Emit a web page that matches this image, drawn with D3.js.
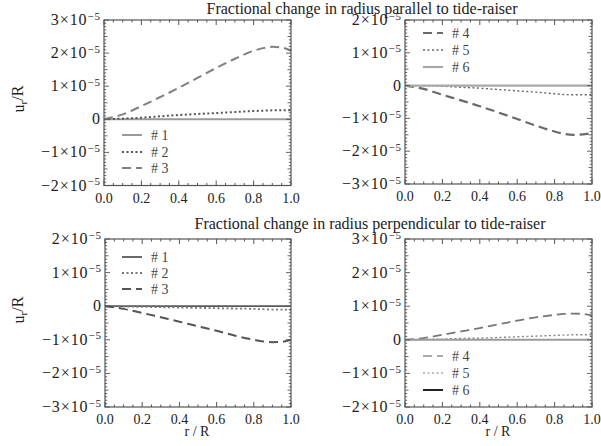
<!DOCTYPE html>
<html>
<head>
<meta charset="utf-8">
<script src="https://cdn.jsdelivr.net/npm/d3@7"></script>
<style>
  html, body { margin: 0; padding: 0; background: #fff; }
  svg { display: block; }
  svg text { font-family: "Liberation Serif", Tinos, "DejaVu Serif", serif; }
</style>
</head>
<body>
<svg id="chart" width="601" height="446" font-family="Liberation Serif, Tinos, DejaVu Serif, serif"></svg>
<script>
// Radial sample points r/R
const radius = [0, 0.1, 0.2, 0.3, 0.4, 0.5, 0.6, 0.7, 0.8, 0.85, 0.9, 0.95, 1.0];

// Fractional radial displacement u_r/R, in units of 1e-5
// Parallel to tide-raiser
const par1 = [0, 0, 0, 0, 0, 0, 0, 0, 0, 0, 0, 0, 0];
const par2 = [0, 0.02, 0.05, 0.09, 0.13, 0.16, 0.19, 0.22, 0.25, 0.26, 0.27, 0.27, 0.27];
const par3 = [0, 0.15, 0.4, 0.67, 0.95, 1.25, 1.55, 1.83, 2.07, 2.15, 2.19, 2.17, 2.07];
const par4 = [0, -0.1, -0.28, -0.45, -0.63, -0.82, -1.02, -1.22, -1.4, -1.47, -1.5, -1.49, -1.44];
const par5 = [0, 0, -0.02, -0.05, -0.08, -0.12, -0.16, -0.2, -0.25, -0.27, -0.28, -0.28, -0.27];
const par6 = [0, 0, 0, 0, 0, 0, 0, 0, 0, 0, 0, 0, 0];
// Perpendicular to tide-raiser
const perp1 = [0, 0, 0, 0, 0, 0, 0, 0, 0, 0, 0, 0, 0];
const perp2 = [0, -0.01, -0.02, -0.03, -0.04, -0.05, -0.06, -0.07, -0.08, -0.09, -0.1, -0.1, -0.1];
const perp3 = [0, -0.08, -0.2, -0.33, -0.46, -0.6, -0.73, -0.88, -1.0, -1.05, -1.07, -1.06, -1.0];
const perp4 = [0, 0.05, 0.15, 0.25, 0.35, 0.46, 0.57, 0.67, 0.74, 0.77, 0.78, 0.77, 0.72];
const perp5 = [0, 0.01, 0.02, 0.04, 0.05, 0.07, 0.09, 0.11, 0.13, 0.14, 0.15, 0.15, 0.15];
const perp6 = [0, 0, 0, 0, 0, 0, 0, 0, 0, 0, 0, 0, 0];

const xTicks = [0, 0.2, 0.4, 0.6, 0.8, 1.0];
const titles = ["Fractional change in radius parallel to tide-raiser",
                "Fractional change in radius perpendicular to tide-raiser"];
const seriesNames = ["# 1", "# 2", "# 3", "# 4", "# 5", "# 6"];

const EXP = 1e-5;
const FONT = "Liberation Serif, Tinos, DejaVu Serif, serif";

// line styles
const SOLID = null, DOT = "2,2.5", DASH = "9,5";

const panels = [
  { x0: 104, x1: 291, y0: 20, y1: 185.5, dom: [-2, 3],
    series: [
      { v: par1, name: seriesNames[0], dash: SOLID, color: "#9a9a9a", w: 2 },
      { v: par2, name: seriesNames[1], dash: DOT, color: "#555", w: 2 },
      { v: par3, name: seriesNames[2], dash: DASH, color: "#808080", w: 2 }],
    legend: { x: 122, ys: [135, 152, 168] } },
  { x0: 405, x1: 592, y0: 20, y1: 184, dom: [-3, 2],
    series: [
      { v: par4, name: seriesNames[3], dash: DASH, color: "#6a6a6a", w: 2.2 },
      { v: par5, name: seriesNames[4], dash: DOT, color: "#666", w: 1.4 },
      { v: par6, name: seriesNames[5], dash: SOLID, color: "#a8a8a8", w: 2.2 }],
    legend: { x: 423, ys: [33, 50, 67] } },
  { x0: 105, x1: 291, y0: 239, y1: 407, dom: [-3, 2],
    series: [
      { v: perp1, name: seriesNames[0], dash: SOLID, color: "#5a5a5a", w: 1.8 },
      { v: perp2, name: seriesNames[1], dash: DOT, color: "#777", w: 1.8 },
      { v: perp3, name: seriesNames[2], dash: DASH, color: "#555", w: 2 }],
    legend: { x: 122, ys: [257, 273, 289] } },
  { x0: 405, x1: 592, y0: 239, y1: 407, dom: [-2, 3],
    series: [
      { v: perp4, name: seriesNames[3], dash: DASH, color: "#777", w: 1.8, legendColor: "#aaa" },
      { v: perp5, name: seriesNames[4], dash: DOT, color: "#888", w: 1.4, legendColor: "#aaa" },
      { v: perp6, name: seriesNames[5], dash: SOLID, color: "#9a9a9a", w: 2, legendColor: "#222" }],
    legend: { x: 423, ys: [356, 373, 390] } }
];

const svg = d3.select("#chart");

function yLabel(sel, k) {
  // k in units of 1e-5
  if (k === 0) { sel.text("0"); return; }
  const sign = k < 0 ? "\u2212" : "";
  sel.append("tspan").text(sign + Math.abs(k) + "\u00d710");
  sel.append("tspan").attr("dy", "-0.5em").attr("font-size", "11px").text("\u22125");
}

panels.forEach(p => {
  const x = d3.scaleLinear().domain([0, 1]).range([p.x0, p.x1]);
  const y = d3.scaleLinear().domain([p.dom[0] * EXP, p.dom[1] * EXP]).range([p.y1, p.y0]);
  const g = svg.append("g").attr("font-family", FONT);

  // curves
  const line = d3.line()
    .x((d, i) => x(radius[i]))
    .y(d => y(d * EXP))
    .curve(d3.curveMonotoneX);
  p.series.forEach(s => {
    g.append("path")
      .datum(s.v)
      .attr("d", line)
      .attr("fill", "none")
      .attr("stroke", s.color)
      .attr("stroke-width", s.w)
      .attr("stroke-dasharray", s.dash);
  });

  // frame
  const frameColor = "#555";
  g.append("rect")
    .attr("x", p.x0).attr("y", p.y0)
    .attr("width", p.x1 - p.x0).attr("height", p.y1 - p.y0)
    .attr("fill", "none").attr("stroke", frameColor).attr("stroke-width", 1.2);

  // x ticks (major + minor), on bottom and top
  const xMinor = d3.range(0, 1.0001, 0.05);
  xMinor.forEach((t, i) => {
    const major = i % 4 === 0;
    const len = major ? 5 : 2.5;
    const px = x(t);
    g.append("line").attr("x1", px).attr("x2", px).attr("y1", p.y1).attr("y2", p.y1 - len)
      .attr("stroke", frameColor).attr("stroke-width", 1);
    g.append("line").attr("x1", px).attr("x2", px).attr("y1", p.y0).attr("y2", p.y0 + len)
      .attr("stroke", frameColor).attr("stroke-width", 1);
  });
  xTicks.forEach(t => {
    g.append("text")
      .attr("x", x(t)).attr("y", p.y1 + 17)
      .attr("text-anchor", "middle")
      .attr("font-size", "14px").attr("fill", "#222")
      .text(d3.format(".1f")(t));
  });

  // y ticks (major + minor), on left and right
  const yMinor = d3.range(p.dom[0] * 10, p.dom[1] * 10 + 1, 1);
  yMinor.forEach(k => {
    const major = k % 10 === 0;
    const mid = k % 5 === 0;
    const len = major ? 5 : (mid ? 3.5 : 2.2);
    const py = y(k / 10 * EXP);
    g.append("line").attr("x1", p.x0).attr("x2", p.x0 + len).attr("y1", py).attr("y2", py)
      .attr("stroke", frameColor).attr("stroke-width", 0.9);
    g.append("line").attr("x1", p.x1).attr("x2", p.x1 - len).attr("y1", py).attr("y2", py)
      .attr("stroke", frameColor).attr("stroke-width", 0.9);
  });
  d3.range(p.dom[0], p.dom[1] + 1).forEach(k => {
    g.append("text")
      .attr("x", p.x0 - 3).attr("y", y(k * EXP) + 5)
      .attr("text-anchor", "end")
      .attr("font-size", "16px").attr("fill", "#222")
      .attr("letter-spacing", "0.9px")
      .call(yLabel, k);
  });

  // legend
  p.series.forEach((s, i) => {
    const ly = p.legend.ys[i];
    g.append("line")
      .attr("x1", p.legend.x).attr("x2", p.legend.x + 20)
      .attr("y1", ly).attr("y2", ly)
      .attr("stroke", s.legendColor || s.color)
      .attr("stroke-width", s.w)
      .attr("stroke-dasharray", s.dash);
    g.append("text")
      .attr("x", p.legend.x + 29).attr("y", ly + 5)
      .attr("font-size", "14px").attr("fill", "#444")
      .text(s.name);
  });
});

// titles
svg.append("text").attr("x", 362).attr("y", 13.5).attr("text-anchor", "middle")
  .attr("font-family", FONT)
  .attr("font-size", "16px").attr("fill", "#222").text(titles[0]);
svg.append("text").attr("x", 370).attr("y", 229).attr("text-anchor", "middle")
  .attr("font-family", FONT)
  .attr("font-size", "16px").attr("fill", "#222").text(titles[1]);

// axis labels
[99, 310].forEach(cy => {
  const t = svg.append("text")
    .attr("transform", `translate(24,${cy}) rotate(-90)`)
    .attr("text-anchor", "middle")
    .attr("font-family", FONT)
    .attr("font-size", "16px").attr("fill", "#222");
  t.append("tspan").text("u");
  t.append("tspan").attr("dy", "0.3em").attr("font-size", "11px").text("r");
  t.append("tspan").attr("dy", "-0.3em").text("/R");
});
[197, 498].forEach(cx => {
  svg.append("text").attr("x", cx).attr("y", 436).attr("text-anchor", "middle")
    .attr("font-family", FONT)
    .attr("font-size", "14px").attr("fill", "#222").text("r / R");
});
</script>
</body>
</html>
